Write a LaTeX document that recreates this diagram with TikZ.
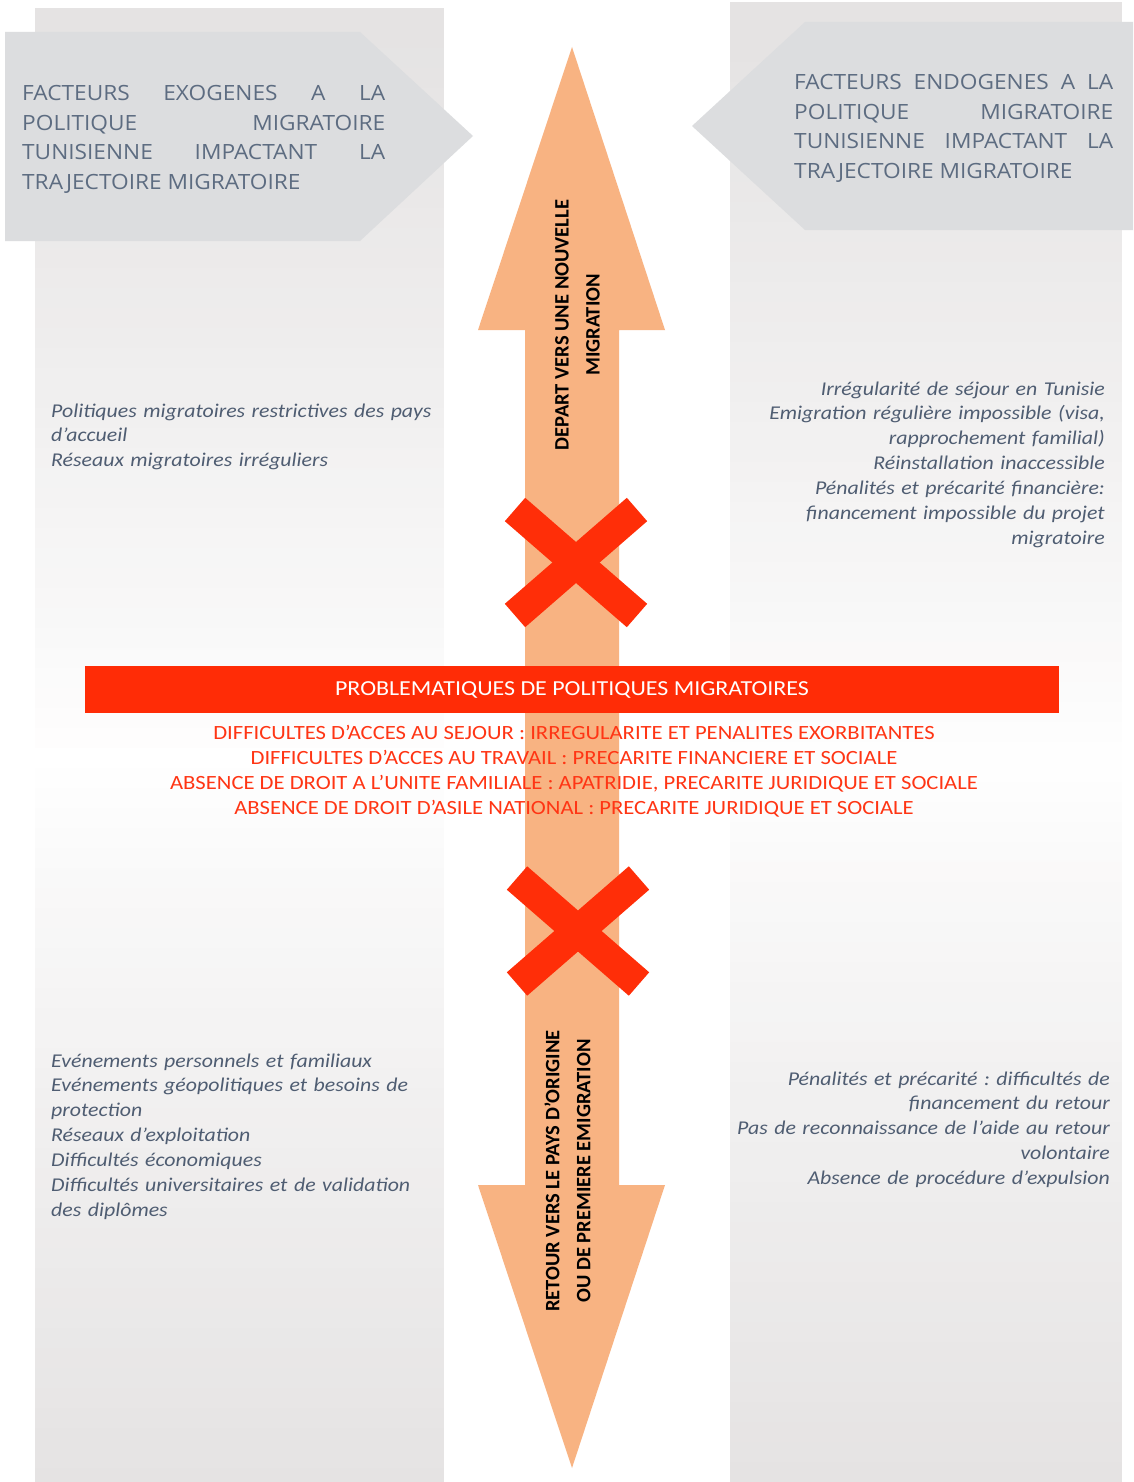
\documentclass[tikz,border=0pt]{standalone}
\usepackage{fontspec}
\setmainfont[FakeStretch=1.12]{Carlito}
\newfontfamily\rotfont{Carlito}
\newfontfamily\headfont[FakeStretch=1.08]{Open Sans}
\frenchspacing
\definecolor{colgray}{HTML}{E5E3E3}
\definecolor{pentc}{HTML}{DCDDDF}
\definecolor{headtxt}{HTML}{5D6C81}
\definecolor{itxt}{HTML}{4F5D72}
\definecolor{arrowc}{HTML}{F8B382}
\definecolor{redx}{HTML}{FF2E08}
\definecolor{redbar}{HTML}{FF2C06}
\definecolor{redtxt}{HTML}{FF3514}
\begin{document}
\begin{tikzpicture}[x=1pt,y=-1pt,
  headbox/.style={anchor=base west,inner sep=0,text width=#1,align=justify,
    text=headtxt,font=\headfont\fontsize{21}{29.4}\selectfont},
  itl/.style={anchor=base west,inner sep=0,text width=420,align=left,
    text=itxt,font=\fontsize{19.5}{24.9}\selectfont\itshape},
  itr/.style={anchor=base east,inner sep=0,text width=420,align=right,
    text=itxt,font=\fontsize{19.5}{24.9}\selectfont\itshape},
  rottxt/.style={rotate=90,inner sep=0,align=center,text=black,
    font=\rotfont\fontsize{20.5}{31}\selectfont\bfseries},
  xmark/.style={draw=redx,line width=31,line cap=butt},
  redlines/.style={inner sep=0,align=center,text=redtxt,
    font=\fontsize{20.2}{25}\selectfont}
]
\useasboundingbox (0,0) rectangle (1133,1482);
\fill[white] (0,0) rectangle (1133,1482);
% columns with vertical gradient
\foreach \xa/\xb/\ya in {35/444/8, 730/1122/2} {
  \foreach \i in {0,...,74} {
    \pgfmathsetmacro\yy{\ya+\i*20}
    \pgfmathsetmacro\ye{min(\yy+21,1482)}
    \pgfmathsetmacro\pp{min(100,100*(abs(\yy+10-760)/720)^0.85)}
    \fill[colgray!\pp!white] (\xa,\yy) rectangle (\xb,\ye);
  }
}
% pentagons
\fill[pentc] (5,32) -- (360,32) -- (473,136) -- (360,241) -- (5,241) -- cycle;
\fill[pentc] (1133,22) -- (805,22) -- (692,126) -- (805,230) -- (1133,230) -- cycle;
\node[headbox=363] (hl) at (22,101) {FACTEURS EXOGENES A LA\linebreak POLITIQUE MIGRATOIRE\linebreak TUNISIENNE IMPACTANT LA\linebreak TRAJECTOIRE MIGRATOIRE};
\node[headbox=319] (hr) at (794,90) {FACTEURS ENDOGENES A LA\linebreak POLITIQUE MIGRATOIRE\linebreak TUNISIENNE IMPACTANT LA\linebreak TRAJECTOIRE MIGRATOIRE};
% double arrow
\fill[arrowc] (572,47) -- (665,330) -- (619,330) -- (619,1185) -- (665,1185) -- (572,1468)
  -- (478,1185) -- (525,1185) -- (525,330) -- (478,330) -- cycle;
\node[rottxt] (up) at (577.5,325) {DEPART VERS UNE NOUVELLE\\MIGRATION};
\node[rottxt] (down) at (567.5,1171) {RETOUR VERS LE PAYS D’ORIGINE\\OU DE PREMIERE EMIGRATION};
% crosses
\foreach \cx/\cy in {576/562.5, 578/931} {
  \draw[xmark] (\cx-61,\cy-53) -- (\cx+61,\cy+53);
  \draw[xmark] (\cx-61,\cy+53) -- (\cx+61,\cy-53);
}
% red bar
\node[fill=redbar,minimum width=974,minimum height=47,inner sep=0,text=white,
  font=\fontsize{21.4}{24}\selectfont] (bar) at (572,689.5) {PROBLEMATIQUES DE POLITIQUES MIGRATOIRES};
\node[redlines] (pb) at (574,771.5) {DIFFICULTES D’ACCES AU SEJOUR : IRREGULARITE ET PENALITES EXORBITANTES\\
DIFFICULTES D’ACCES AU TRAVAIL : PRECARITE FINANCIERE ET SOCIALE\\
ABSENCE DE DROIT A L’UNITE FAMILIALE : APATRIDIE, PRECARITE JURIDIQUE ET SOCIALE\\
ABSENCE DE DROIT D’ASILE NATIONAL : PRECARITE JURIDIQUE ET SOCIALE};
% italic texts
\node[itl] (tl) at (51,417) {Politiques migratoires restrictives des pays\\d’accueil\\Réseaux migratoires irréguliers};
\node[itr] (tr) at (1105,395) {Irrégularité de séjour en Tunisie\\Emigration régulière impossible (visa,\\rapprochement familial)\\Réinstallation inaccessible\\Pénalités et précarité financière:\\financement impossible du projet\\migratoire};
\node[itl] (bl) at (51,1067) {Evénements personnels et familiaux\\Evénements géopolitiques et besoins de\\protection\\Réseaux d’exploitation\\Difficultés économiques\\Difficultés universitaires et de validation\\des diplômes};
\node[itr] (br) at (1110,1085) {Pénalités et précarité : difficultés de\\financement du retour\\Pas de reconnaissance de l’aide au retour\\volontaire\\Absence de procédure d’expulsion};
\end{tikzpicture}
\end{document}
